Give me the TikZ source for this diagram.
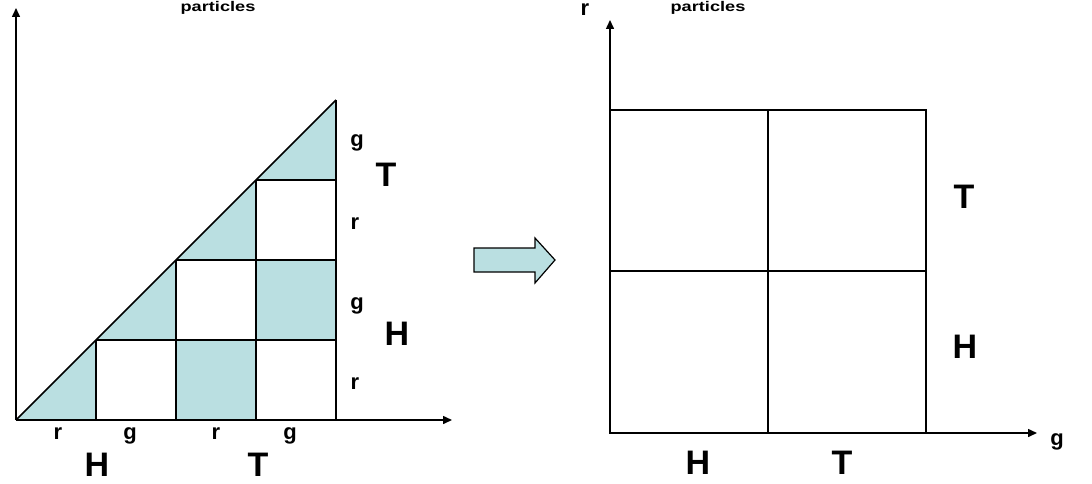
\documentclass[tikz,border=0pt]{standalone}
\usepackage{fontspec}
\setmainfont{Liberation Sans}
\usetikzlibrary{arrows.meta}
\definecolor{cellfill}{RGB}{186,223,225}
\begin{document}
\begin{tikzpicture}[x=1pt,y=-1pt,line width=1.5pt,
  big/.style={font=\bfseries\fontsize{34}{34}\selectfont,inner sep=0pt},
  small/.style={font=\bfseries\fontsize{22}{22}\selectfont,inner sep=0pt},
  tiny/.style={font=\bfseries\fontsize{14}{14}\selectfont,inner sep=0pt},
  axis/.style={-{Triangle[length=9pt,width=8pt]}},
  shade/.style={fill=cellfill,draw=none}]
\useasboundingbox (0,0) rectangle (1092,484);
% ---------- left panel ----------
\coordinate (LO) at (16,420);
\coordinate (LY) at (16,8);
\coordinate (LX) at (452,420);
\fill[shade] (16,420) -- (96,420) -- (96,340) -- cycle;
\fill[shade] (96,340) -- (176,340) -- (176,260) -- cycle;
\fill[shade] (176,260) -- (256,260) -- (256,180) -- cycle;
\fill[shade] (256,180) -- (336,180) -- (336,100) -- cycle;
\fill[shade] (176,340) rectangle (256,420);
\fill[shade] (256,260) rectangle (336,340);
\draw (16,420) -- (336,100);
\draw (96,420) -- (96,340);
\draw (176,420) -- (176,260);
\draw (256,420) -- (256,180);
\draw (336,420) -- (336,100);
\draw (96,340) -- (336,340);
\draw (176,260) -- (336,260);
\draw (256,180) -- (336,180);
\draw[axis] (LO) -- (LY);
\draw[axis] (LO) -- (LX);
\node[tiny] (lpart) at (218,8) {\scalebox{1.3}[1]{particles}};
\node[small] (lb1) at (58,434) {r};
\node[small] (lb2) at (130,436) {g};
\node[small] (lb3) at (216,434) {r};
\node[small] (lb4) at (290,436) {g};
\node[big] (lbH) at (97,465) {H};
\node[big] (lbT) at (258,465) {T};
\node[small] (lr1) at (357,143) {g};
\node[small] (lr2) at (355,224) {r};
\node[small] (lr3) at (357,306) {g};
\node[small] (lr4) at (355,384) {r};
\node[big] (lrT) at (386,175) {T};
\node[big] (lrH) at (397,334) {H};
% ---------- block arrow ----------
\draw[fill=cellfill,line width=1.2pt,line join=miter]
  (474,248) -- (535,248) -- (535,238) -- (555,260) -- (535,283) -- (535,272) -- (474,272) -- cycle;
% ---------- right panel ----------
\coordinate (RO) at (610,433);
\coordinate (RY) at (610,20);
\coordinate (RX) at (1037,433);
\draw (610,110) rectangle (926,433);
\draw (768,110) -- (768,433);
\draw (610,271) -- (926,271);
\draw[axis] (RO) -- (RY);
\draw[axis] (RO) -- (RX);
\node[small] (rr) at (585,10) {r};
\node[tiny] (rpart) at (708,8) {\scalebox{1.3}[1]{particles}};
\node[small] (rg) at (1057,442) {g};
\node[big] (rT) at (964,197) {T};
\node[big] (rH) at (965,347) {H};
\node[big] (rbH) at (698,463) {H};
\node[big] (rbT) at (842,463) {T};
\end{tikzpicture}
\end{document}
